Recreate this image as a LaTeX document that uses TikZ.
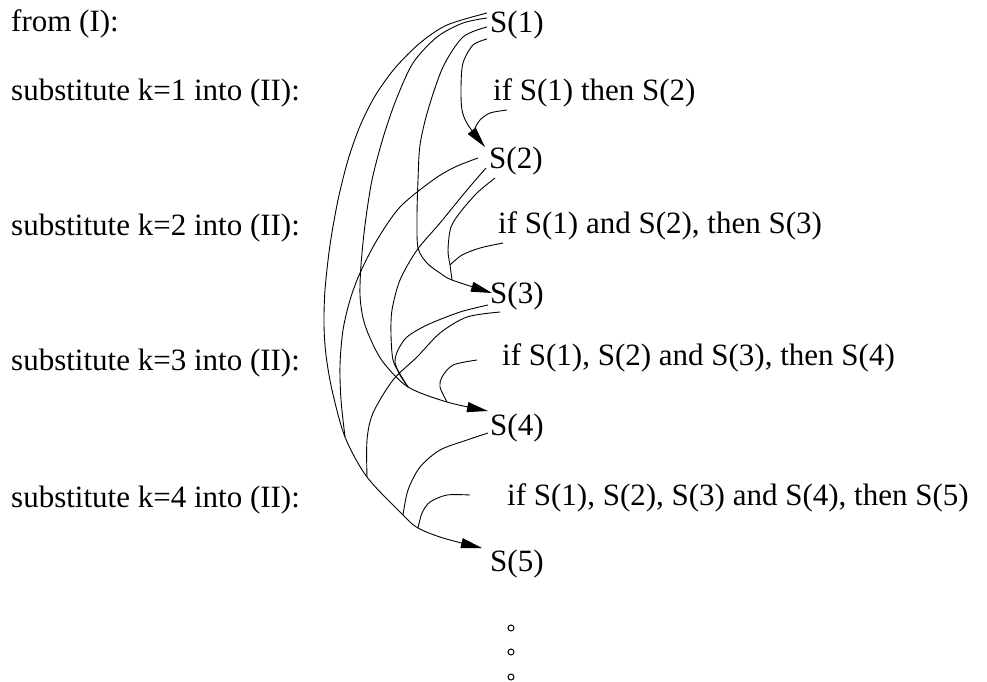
\documentclass[tikz,border=0pt]{standalone}
\usepackage{fontspec}
\setmainfont{Liberation Serif}
\usetikzlibrary{arrows.meta}
\begin{document}
\begin{tikzpicture}[x=1pt,y=-1pt,
  lbl/.style={anchor=base west, inner sep=0pt, font=\fontsize{31}{36}\selectfont},
  wire/.style={line width=0.9pt},
  arr/.style={wire, -{Triangle[length=21pt,width=10pt]}},
  dotc/.style={line width=1pt}]
\useasboundingbox (0,0) rectangle (987,681);
% left labels
\node[lbl] (l0) at (11,31) {from (I):};
\node[lbl] (l1) at (11,100) {substitute k=1 into (II):};
\node[lbl] (l2) at (11,235) {substitute k=2 into (II):};
\node[lbl] (l3) at (11,370) {substitute k=3 into (II):};
\node[lbl] (l4) at (11,507) {substitute k=4 into (II):};
% right labels
\node[lbl] (s1) at (490,32) {S(1)};
\node[lbl] (if1) at (493,100) {if S(1) then S(2)};
\node[lbl] (s2) at (489,168) {S(2)};
\node[lbl] (if2) at (498,233) {if S(1) and S(2), then S(3)};
\node[lbl] (s3) at (490,303) {S(3)};
\node[lbl] (if3) at (502,365) {if S(1), S(2) and S(3), then S(4)};
\node[lbl] (s4) at (490,435) {S(4)};
\node[lbl] (if4) at (507,505) {if S(1), S(2), S(3) and S(4), then S(5)};
\node[lbl] (s5) at (490,571) {S(5)};
% junctions and ends
\coordinate (a1) at (487,13);
\coordinate (b1) at (487,18);
\coordinate (c1) at (487,27);
\coordinate (d1) at (487,39);
\coordinate (e2) at (478,158);
\coordinate (f2) at (486,168);
\coordinate (g2) at (495,178);
\coordinate (h3) at (488,305);
\coordinate (i3) at (500,312);
\coordinate (k4) at (488,433);
\coordinate (s2in) at (485,147);
\coordinate (s3in) at (492,293);
\coordinate (s4in) at (488,411);
\coordinate (s5in) at (482,548);
\coordinate (j2) at (475,128);
\coordinate (j3) at (452,280);
\coordinate (j3i) at (450,265);
\coordinate (j4) at (408,387);
\coordinate (j4i) at (447,402);
\coordinate (j5a) at (345,437);
\coordinate (j5b) at (367,477);
\coordinate (j5c) at (403,515);
\coordinate (j5d) at (418,528);
\coordinate (if1e) at (507,110);
\coordinate (if2e) at (503,243);
\coordinate (if3e) at (477,360);
\coordinate (if4e) at (470,495);
% trunk S(1) -> S(5)
\draw[arr] plot[smooth] coordinates {(a1) (447,25) (420,43) (395,68) (375,96) (360,126) (348,160) (338,200) (330,245) (325,290) (324,325) (326,355) (332,390) (j5a) (j5b) (j5c) (j5d) (443,538) (s5in)};
% S(1) -> S(4)
\draw[arr] plot[smooth] coordinates {(b1) (463,23) (437,37) (413,63) (396,100) (383,138) (372,180) (365,225) (361,265) (360,295) (363,318) (370,338) (383,362) (j4) (j4i) (s4in)};
% S(1) -> S(3)
\draw[arr] plot[smooth] coordinates {(c1) (463,37) (443,67) (428,110) (420,145) (418,180) (417,217) (418,248) (427,263) (440,273) (j3) (s3in)};
% S(1) -> S(2)
\draw[arr] plot[smooth] coordinates {(d1) (473,45) (463,63) (461,87) (462,110) (468,125) (s2in)};
\draw[wire] plot[smooth] coordinates {(if1e) (490,113) (480,120) (j2)};
% S(2) branches
\draw[wire] plot[smooth] coordinates {(e2) (455,167) (433,180) (400,207) (377,240) (360,273) (350,300) (343,330) (340,365) (341,400) (j5a)};
\draw[wire] plot[smooth] coordinates {(f2) (467,190) (440,223) (417,250) (400,280) (392,310) (391,335) (393,360) (400,374) (j4)};
\draw[wire] plot[smooth] coordinates {(g2) (478,192) (462,210) (451,227) (448,250) (j3i) (j3)};
\draw[wire] plot[smooth] coordinates {(if2e) (480,248) (462,255) (j3i)};
% S(3) branches
\draw[wire] plot[smooth] coordinates {(h3) (460,312) (427,325) (407,337) (398,350) (395,362) (400,375) (j4)};
\draw[wire] plot[smooth] coordinates {(i3) (467,317) (440,333) (417,357) (393,380) (373,413) (367,440) (j5b)};
\draw[wire] plot[smooth] coordinates {(if3e) (453,365) (442,377) (440,387) (j4i)};
% S(4) branches
\draw[wire] plot[smooth] coordinates {(k4) (467,440) (440,450) (420,467) (408,490) (j5c)};
\draw[wire] plot[smooth] coordinates {(if4e) (447,495) (430,502) (422,513) (j5d)};
% dots
\draw[dotc] (511,628) circle (3);
\draw[dotc] (511,652) circle (3);
\draw[dotc] (511,677) circle (3);
\end{tikzpicture}
\end{document}
